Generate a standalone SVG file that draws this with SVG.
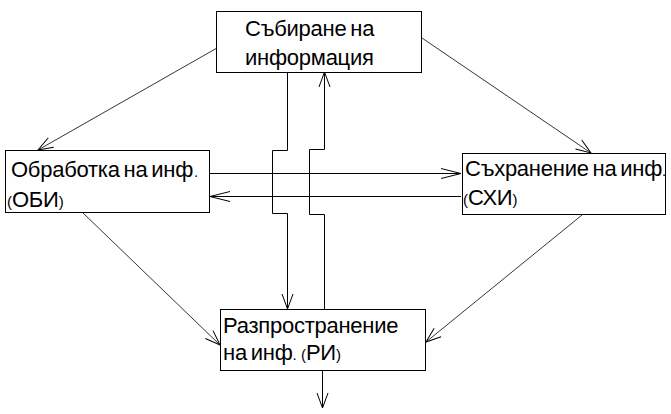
<svg xmlns="http://www.w3.org/2000/svg" width="671" height="414" viewBox="0 0 671 414">
<style>
.box{fill:#fff;stroke:#000;stroke-width:1}
.t{font-family:"Liberation Sans",Arial,sans-serif;font-size:22px;letter-spacing:-0.25px;word-spacing:-2px;fill:#000}
.s{font-size:15px;letter-spacing:0;word-spacing:0}
.c{fill:none;stroke:#000;stroke-width:1}
.d{fill:none;stroke:#000;stroke-width:0.8}
</style>
<defs>
<marker id="ah" markerUnits="userSpaceOnUse" viewBox="-1 -7 17 14" markerWidth="17" markerHeight="14" refX="15" refY="0" orient="auto" overflow="visible">
<path d="M0,-5.5 L15,0 L0,5.5" fill="none" stroke="#000" stroke-width="1"/>
</marker>
<marker id="ahl" markerUnits="userSpaceOnUse" viewBox="-1 -7 22 14" markerWidth="22" markerHeight="14" refX="20" refY="0" orient="auto" overflow="visible">
<path d="M0,-5 L20,0 L0,5" fill="none" stroke="#000" stroke-width="1"/>
</marker>
</defs>
<rect width="671" height="414" fill="#fff"/>
<g id="connectors">
<path class="d" d="M217,48 L38,150" marker-end="url(#ah)"/>
<path class="d" d="M422,38 L591,153" marker-end="url(#ah)"/>
<path class="d" d="M82,212 L220,345" marker-end="url(#ah)"/>
<path class="d" d="M582,215 L426,342" marker-end="url(#ah)"/>
<path class="c" d="M210,173.5 H461" marker-end="url(#ahl)"/>
<path class="c" d="M461,196.5 H210" marker-end="url(#ahl)"/>
<path class="c" d="M287.5,72 V150.5 H272.5 V213.5 H287.5 V309" marker-end="url(#ah)"/>
<path class="c" d="M324.5,309 V214.5 H309.5 V149.5 H324.5 V72" marker-end="url(#ah)"/>
<path class="c" d="M322.5,371 V408" marker-end="url(#ah)"/>
</g>
<g id="node-collect">
<rect class="box" x="216.5" y="11.5" width="205" height="61"/>
<text class="t" x="245" y="36">Събиране на</text>
<text class="t" x="245" y="65">информация</text>
</g>
<g id="node-process">
<rect class="box" x="5.5" y="150.5" width="204" height="62"/>
<text class="t" x="11" y="177">Обработка на инф<tspan class="s" dx="1">.</tspan></text>
<text class="t" x="7" y="207"><tspan class="s">(</tspan>ОБИ<tspan class="s">)</tspan></text>
</g>
<g id="node-store">
<rect class="box" x="462.5" y="153.5" width="203" height="61"/>
<text class="t" x="465" y="176">Съхранение на инф<tspan class="s">.</tspan></text>
<text class="t" x="463" y="205"><tspan class="s">(</tspan>СХИ<tspan class="s">)</tspan></text>
</g>
<g id="node-distribute">
<rect class="box" x="220.5" y="309.5" width="205" height="61"/>
<text class="t" x="223" y="333">Разпространение</text>
<text class="t" x="223" y="360">на инф<tspan class="s">. (</tspan>РИ<tspan class="s">)</tspan></text>
</g>
</svg>
